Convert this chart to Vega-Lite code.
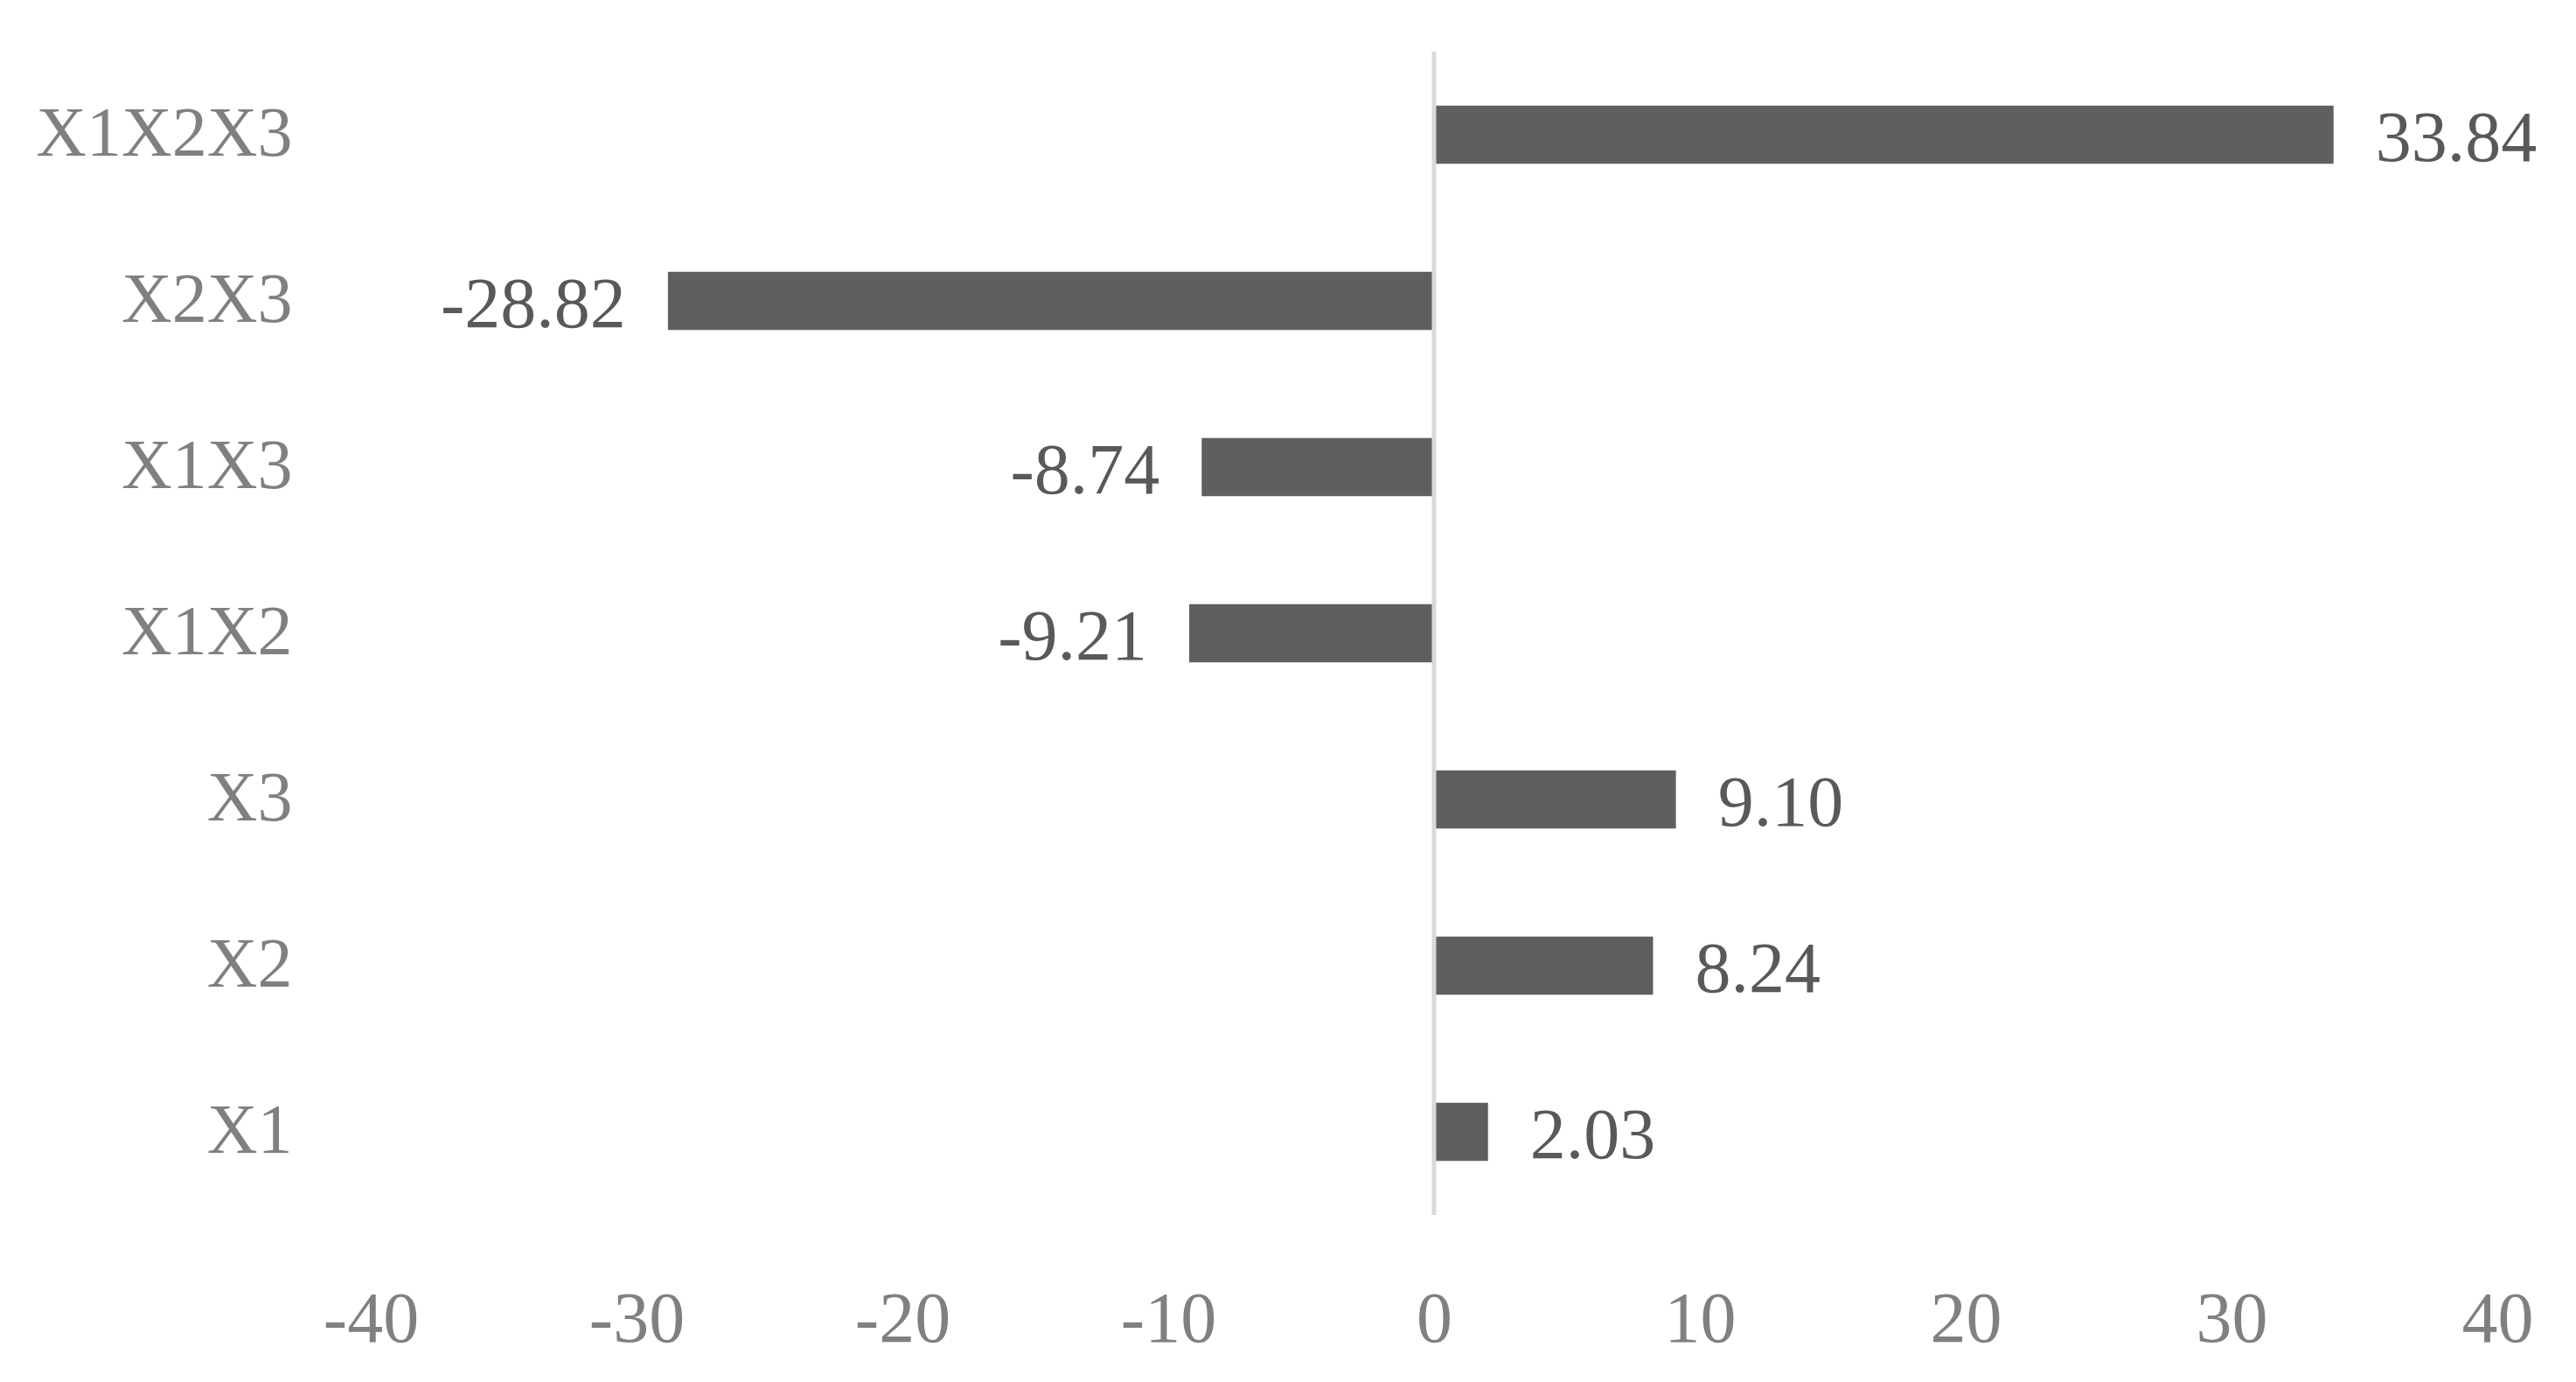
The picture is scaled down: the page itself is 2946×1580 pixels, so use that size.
{
  "$schema": "https://vega.github.io/schema/vega-lite/v6.json",
  "autosize": {"type": "none"},
  "padding": {"left": 424, "top": 59, "right": 90, "bottom": 191},
  "width": 2432,
  "height": 1330,
  "background": "white",
  "config": {
    "view": {"stroke": null},
    "font": "Liberation Serif",
    "locale": {"number": {"decimal": ".", "thousands": ",", "grouping": [3], "currency": ["$", ""], "minus": "-"}}
  },
  "data": {"values": [
    {"term": "X1X2X3", "value": 33.84},
    {"term": "X2X3", "value": -28.82},
    {"term": "X1X3", "value": -8.74},
    {"term": "X1X2", "value": -9.21},
    {"term": "X3", "value": 9.10},
    {"term": "X2", "value": 8.24},
    {"term": "X1", "value": 2.03}
  ]},
  "encoding": {
    "y": {
      "field": "term", "type": "nominal",
      "sort": ["X1X2X3", "X2X3", "X1X3", "X1X2", "X3", "X2", "X1"],
      "scale": {"paddingInner": 0.65, "paddingOuter": 0.325},
      "axis": {"title": null, "domain": false, "ticks": false, "labelPadding": 90, "labelLimit": 0, "labelFontSize": 80, "labelColor": "#808080", "labelFont": "Liberation Serif"}
    }
  },
  "layer": [
    {
      "mark": {"type": "bar", "color": "#5f5f5f"},
      "encoding": {
        "x": {
          "field": "value", "type": "quantitative",
          "scale": {"domain": [-40, 40], "nice": false, "zero": false},
          "axis": {"title": null, "values": [-40, -30, -20, -10, 0, 10, 20, 30, 40], "format": "d", "grid": false, "domain": false, "ticks": false, "labelPadding": 79, "labelFontSize": 82, "labelColor": "#808080", "labelFont": "Liberation Serif", "labelFlush": false}
        }
      }
    },
    {
      "mark": {"type": "rule", "color": "#d9d9d9", "strokeWidth": 5},
      "data": {"values": [{"x0": 0}]},
      "encoding": {"x": {"field": "x0", "type": "quantitative"}, "y": null}
    },
    {
      "transform": [{"filter": "datum.value >= 0"}],
      "mark": {"type": "text", "align": "left", "baseline": "middle", "dx": 48, "dy": 5, "fontSize": 82, "color": "#595959", "font": "Liberation Serif"},
      "encoding": {
        "x": {"field": "value", "type": "quantitative"},
        "text": {"field": "value", "type": "quantitative", "format": ".2f"}
      }
    },
    {
      "transform": [{"filter": "datum.value < 0"}],
      "mark": {"type": "text", "align": "right", "baseline": "middle", "dx": -48, "dy": 5, "fontSize": 82, "color": "#595959", "font": "Liberation Serif"},
      "encoding": {
        "x": {"field": "value", "type": "quantitative"},
        "text": {"field": "value", "type": "quantitative", "format": ".2f"}
      }
    }
  ]
}
